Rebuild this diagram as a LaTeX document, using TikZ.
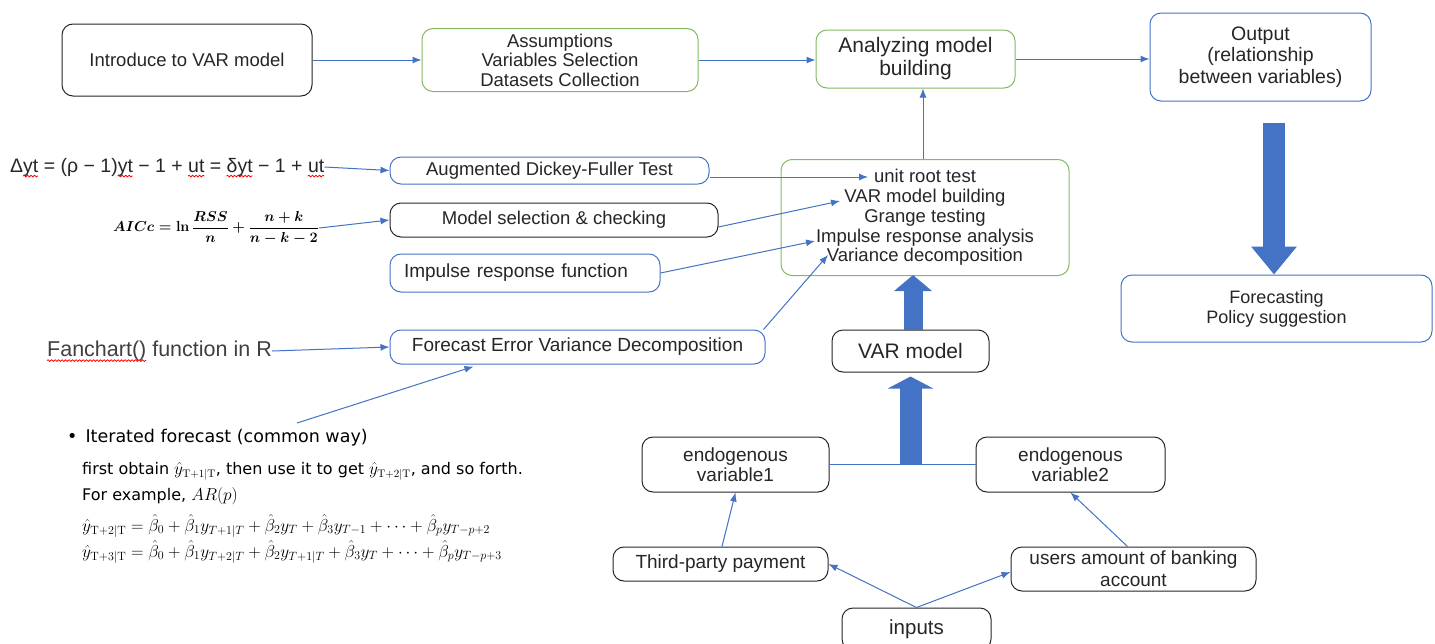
\documentclass[tikz,border=0pt]{standalone}
\usepackage[no-math]{fontspec}
\setmainfont{Liberation Sans}
\newfontfamily\dvs{DejaVu Sans}
\usepackage{amsmath}
\usetikzlibrary{calc,arrows.meta,decorations.pathmorphing}
\newcommand\fsz[2]{\fontsize{#1pt}{#2pt}\selectfont}
\newlength\wAa \newlength\wAb
\newlength\wBa \newlength\wBb
\newlength\wCa \newlength\wCb
\newlength\wDa \newlength\wDb
\newlength\wEa \newlength\wEb
\newlength\wFb
\newsavebox\aiccbox
\newsavebox\lineB
\newsavebox\lineC
\newsavebox\lineD
\newsavebox\lineE
\definecolor{lblue}{HTML}{4472C4}
\definecolor{lgreen}{HTML}{84B960}
\definecolor{tgray}{HTML}{262626}
\definecolor{mgray}{HTML}{404040}
\tikzset{
  box/.style={draw=tgray, rounded corners=11pt, line width=1pt, align=center, inner sep=0pt, text=tgray},
  gbox/.style={box, draw=lgreen},
  bbox/.style={box, draw=lblue},
  conn/.style={draw=lblue, line width=1pt, -{Latex[length=9pt,width=7pt]}},
  plainline/.style={draw=lblue, line width=1pt},
  blockarrow/.style n args={3}{draw=lblue, line width=#1, line cap=butt, -{Triangle[length=#3,width=#2]}},
  txt/.style={inner sep=0pt, text=tgray},
  wavy/.style={draw=red, line width=0.8pt, decorate, decoration={snake, amplitude=0.8pt, segment length=3.5pt}},
}
\begin{document}
\sbox\aiccbox{\fsz{14.5}{17}\boldmath$AICc = \ln\dfrac{RSS}{n} + \dfrac{n+k}{n-k-2}$}
\sbox\lineB{\dvs\fsz{16}{19}first obtain $\hat{y}_{\mathrm{T+1|T}}$, then use it to get $\hat{y}_{\mathrm{T+2|T}}$, and so forth.}
\sbox\lineC{\dvs\fsz{16}{19}For example, $AR(p)$}
\sbox\lineD{\dvs\fsz{17}{19}$\hat{y}_{\mathrm{T+2|T}} = \hat\beta_0 + \hat\beta_1 y_{T+1|T} + \hat\beta_2 y_T + \hat\beta_3 y_{T-1} + \cdots + \hat\beta_p y_{T-p+2}$}
\sbox\lineE{\dvs\fsz{17}{19}$\hat{y}_{\mathrm{T+3|T}} = \hat\beta_0 + \hat\beta_1 y_{T+2|T} + \hat\beta_2 y_{T+1|T} + \hat\beta_3 y_T + \cdots + \hat\beta_p y_{T-p+3}$}
\settowidth\wAa{\fsz{19.5}{22}Δ}%
\settowidth\wAb{\fsz{19.5}{22}yt}%
\settowidth\wBa{\fsz{19.5}{22}Δyt = (ρ − 1)}%
\settowidth\wBb{\fsz{19.5}{22}yt}%
\settowidth\wCa{\fsz{19.5}{22}Δyt = (ρ − 1)yt − 1 + }%
\settowidth\wCb{\fsz{19.5}{22}ut}%
\settowidth\wDa{\fsz{19.5}{22}Δyt = (ρ − 1)yt − 1 + ut = }%
\settowidth\wDb{\fsz{19.5}{22}δyt}%
\settowidth\wEa{\fsz{19.5}{22}Δyt = (ρ − 1)yt − 1 + ut = δyt − 1 + }%
\settowidth\wEb{\fsz{19.5}{22}ut}%
\settowidth\wFb{\fsz{21.5}{24}Fanchart()}%
\begin{tikzpicture}[x=1pt,y=-1pt]
\useasboundingbox (0,0) rectangle (1435,643);
\fill[white] (0,0) rectangle (1435,643);

% top row
\node[box, minimum width=250pt, minimum height=72pt, font=\fsz{18.5}{22}] (intro) at (187,60) {Introduce to VAR model};
\node[gbox, minimum width=276pt, minimum height=63pt, font=\fsz{18.5}{19.5}] (assum) at (560,60) {Assumptions\\Variables Selection\\Datasets Collection};
\node[gbox, minimum width=199pt, minimum height=58pt, font=\fsz{21}{23}] (anal) at (915.5,59) {Analyzing model\\building};
\node[bbox, minimum width=221pt, minimum height=88pt, font=\fsz{19.5}{21.5}] (out) at (1260.5,57) {Output\\(relationship\\between variables)};
\node[bbox, minimum width=311pt, minimum height=67pt, font=\fsz{18}{20}] (fore) at (1276.5,308.5) {Forecasting\\Policy suggestion};

% left column boxes
\node[bbox, minimum width=319pt, minimum height=27pt, font=\fsz{18.5}{21}] (adf) at (549.5,170.5) {Augmented Dickey-Fuller Test};
\node[box, minimum width=328pt, minimum height=34pt, font=\fsz{18.5}{21}] (msel) at (554,220) {Model selection \& checking};
\node[bbox, text width=242pt, inner xsep=14pt, align=left, minimum height=38pt, font=\fsz{19}{21}] (irf) at (525,273) {Impulse response function};
\node[bbox, minimum width=375pt, minimum height=34pt, font=\fsz{19}{21}] (fevd) at (577.5,347) {Forecast Error Variance Decomposition};

% central column
\node[gbox, minimum width=288pt, minimum height=116pt, font=\fsz{18.5}{19.75}] (list) at (925,217.5) {unit root test\\VAR model building\\Grange testing\\Impulse response analysis\\Variance decomposition};
\node[box, minimum width=157pt, minimum height=42pt, font=\fsz{21}{23}] (varm) at (910.5,351) {VAR model};
\node[box, minimum width=187pt, minimum height=55pt, font=\fsz{19}{20.5}] (en1) at (735.5,464.5) {endogenous\\variable1};
\node[box, minimum width=189pt, minimum height=55pt, font=\fsz{19}{20.5}] (en2) at (1070.5,464.5) {endogenous\\variable2};
\node[box, minimum width=215pt, minimum height=34pt, font=\fsz{19}{21}] (tpp) at (720.5,564) {Third-party payment};
\node[box, minimum width=245pt, minimum height=44pt, font=\fsz{19}{22}] (usr) at (1133.5,569) {users amount of banking\\account};
\node[box, minimum width=149pt, minimum height=42pt, font=\fsz{20.5}{23}] (inp) at (916.5,629) {inputs};

% left texts
\node[txt, anchor=west, font=\fsz{19.5}{22}, text=tgray] (eq) at (10,167) {Δyt = (ρ − 1)yt − 1 + ut = δyt − 1 + ut};
\node[txt, text=black] (aicc) at (216,228) {\usebox\aiccbox};
\node[txt, anchor=west, font=\fsz{21.5}{24}, text=mgray] (fan) at (47,351) {Fanchart() function in R};
\coordinate (fcs) at (297,423);

% spell-check squiggles
\draw[wavy] ($(eq.base west)+(\wAa,-4pt)$) -- ++(\wAb,0pt);
\draw[wavy] ($(eq.base west)+(\wBa,-4pt)$) -- ++(\wBb,0pt);
\draw[wavy] ($(eq.base west)+(\wCa,-4pt)$) -- ++(\wCb,0pt);
\draw[wavy] ($(eq.base west)+(\wDa,-4pt)$) -- ++(\wDb,0pt);
\draw[wavy] ($(eq.base west)+(\wEa,-4pt)$) -- ++(\wEb,0pt);
\draw[wavy] ($(fan.base west)+(0pt,-4pt)$) -- ++(\wFb,0pt);

\node[txt, anchor=west, font=\dvs\fsz{17.5}{20}, text=black] (b1) at (67,438) {\textbullet\hspace{8pt}Iterated forecast (common way)};
\node[txt, anchor=west, text=mgray] (b2) at (82,471) {\usebox\lineB};
\node[txt, anchor=west, text=mgray] (b3) at (82,496) {\usebox\lineC};
\node[txt, anchor=west, text=mgray] (b4) at (82,526) {\usebox\lineD};
\node[txt, anchor=west, text=mgray] (b5) at (82,552) {\usebox\lineE};

% targets inside list box
\coordinate (t1) at (868,177);
\coordinate (t2) at (840,201);
\coordinate (t3) at (815,241);
\coordinate (t4) at (828,255);
\coordinate (lt) at ($(list.north)+(-2,0)$);

% connectors top row
\draw[conn] (intro.east) -- (assum.west);
\draw[conn] (assum.east) -- (assum.east -| anal.west);
\draw[conn] (anal.east) -- (anal.east -| out.west);
\draw[conn] (lt) -- (lt |- anal.south);

% left connectors
\draw[conn] (eq.east) -- (adf.west);
\draw[conn] (aicc.east) -- (msel.west);
\draw[conn] (fan.east) -- (fevd.west);
\draw[conn] (fcs) -- ($(fevd.south west)+(84,2)$);
\draw[conn] ($(adf.east)+(0,6.5)$) -- (t1);
\draw[conn] ($(msel.east)+(0,7)$) -- (t2);
\draw[conn] (irf.east) -- (t3);
\draw[conn] ($(fevd.north east)+(-2,0)$) -- (t4);

% bottom connectors
\draw[plainline] (en1.east) -- (en2.west);
\coordinate (mid) at (varm.south |- en1.east);
\draw[conn] (inp.north) -- (tpp.east);
\draw[conn] (inp.north) -- ($(usr.west)+(0,3)$);
\draw[conn] ($(tpp.north)+(1.5,0)$) -- (en1.south);
\draw[conn] ($(usr.north)+(-6,0)$) -- (en2.south);

% block arrows
\draw[blockarrow={22pt}{45pt}{12pt}] (mid) -- ($(varm.south)+(0,4)$);
\draw[blockarrow={19pt}{37pt}{16pt}] ($(varm.north)+(2.5,0)$) -- ($(list.south)+(-12,-1)$);
\draw[blockarrow={22pt}{44pt}{28pt}] ($(out.south)+(13.5,21)$) -- ($(fore.north)+(-2.5,0)$);
\end{tikzpicture}
\end{document}
